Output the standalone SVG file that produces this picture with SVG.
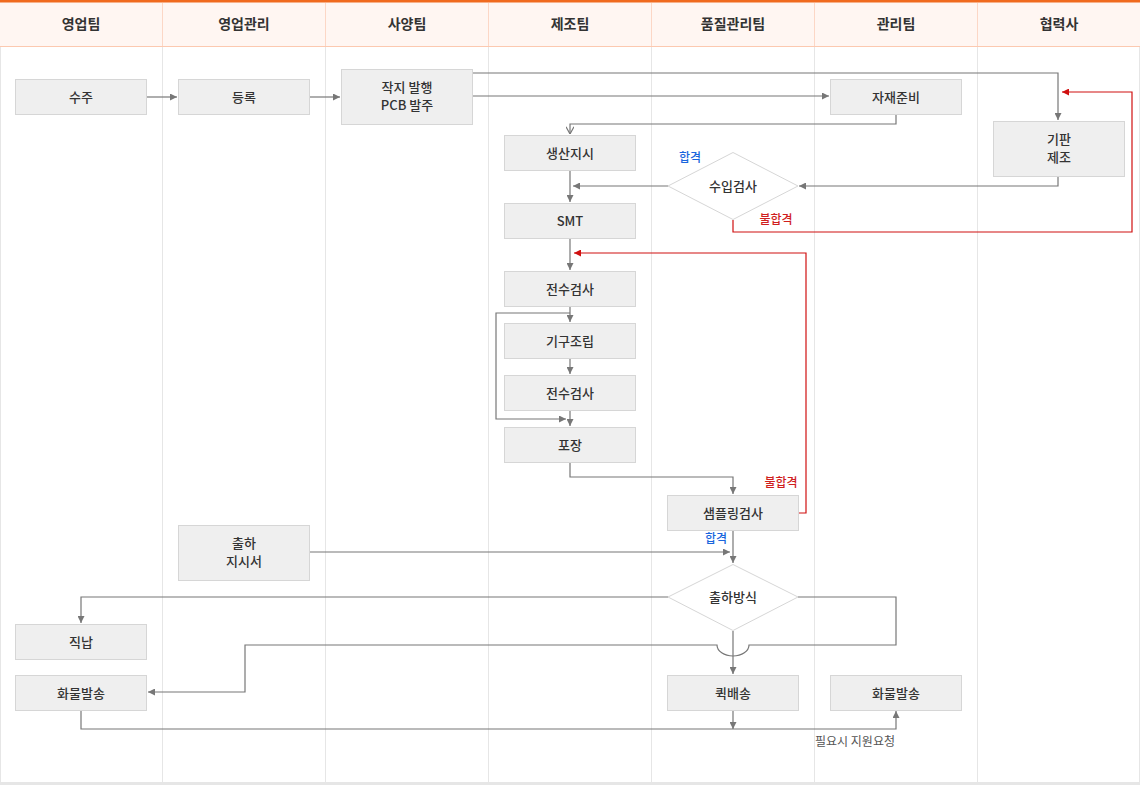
<svg xmlns="http://www.w3.org/2000/svg" width="1140" height="785" viewBox="0 0 1140 785">
<defs>
<style>
.hdr{fill:#333;font-family:"Noto Sans CJK KR","Noto Sans",sans-serif;font-size:14px;font-weight:700;text-anchor:middle}
.box{fill:#efefef;stroke:#d6d6d6;stroke-width:1}
.dia{fill:#fff;stroke:#d6d6d6;stroke-width:1}
.t{fill:#333;font-family:"Noto Sans CJK KR","Noto Sans",sans-serif;font-size:13px;font-weight:500;text-anchor:middle}
.ln{fill:none;stroke:#777;stroke-width:1.2}
.rl{fill:none;stroke:#d01010;stroke-width:1.2}
.lbB{fill:#1a66dd;font-family:"Noto Sans CJK KR","Noto Sans",sans-serif;font-size:12px;font-weight:500;text-anchor:middle}
.lbR{fill:#d01e1e;font-family:"Noto Sans CJK KR","Noto Sans",sans-serif;font-size:12px;font-weight:500;text-anchor:middle}
.lbG{fill:#555;font-family:"Noto Sans CJK KR","Noto Sans",sans-serif;font-size:12px;text-anchor:middle}
.col{stroke:#e6e6e6;stroke-width:1}
.hcol{stroke:#fcd7c6;stroke-width:1}
</style>
<marker id="a" viewBox="0 0 10 10" refX="10" refY="5" markerWidth="7" markerHeight="7" markerUnits="userSpaceOnUse" orient="auto"><path d="M0,0 L10,5 L0,10 z" fill="#777"/></marker>
<marker id="ar" viewBox="0 0 10 10" refX="10" refY="5" markerWidth="7" markerHeight="7" markerUnits="userSpaceOnUse" orient="auto"><path d="M0,0 L10,5 L0,10 z" fill="#d01010"/></marker>
<marker id="av" viewBox="0 0 10 10" refX="10" refY="5" markerWidth="8" markerHeight="8" markerUnits="userSpaceOnUse" orient="auto"><path d="M1,0 L10,5 L1,10" fill="none" stroke="#777" stroke-width="1.5"/></marker>
</defs>
<rect x="0" y="0" width="1140" height="785" fill="#fff"/>
<!-- header -->
<g id="header">
<rect x="0" y="2" width="1140" height="44" fill="#fff6f2"/>
<rect x="0" y="0" width="1140" height="2.5" fill="#f06a1e"/>
<line x1="0" y1="46.5" x2="1140" y2="46.5" stroke="#fcc9b0" stroke-width="1"/>
<line class="hcol" x1="162.5" y1="3" x2="162.5" y2="46"/>
<line class="hcol" x1="325.5" y1="3" x2="325.5" y2="46"/>
<line class="hcol" x1="488.5" y1="3" x2="488.5" y2="46"/>
<line class="hcol" x1="651.5" y1="3" x2="651.5" y2="46"/>
<line class="hcol" x1="814.5" y1="3" x2="814.5" y2="46"/>
<line class="hcol" x1="977.5" y1="3" x2="977.5" y2="46"/>
<text class="hdr" x="81" y="29">영업팀</text>
<text class="hdr" x="244" y="29">영업관리</text>
<text class="hdr" x="407" y="29">사양팀</text>
<text class="hdr" x="570" y="29">제조팀</text>
<text class="hdr" x="733" y="29">품질관리팀</text>
<text class="hdr" x="896" y="29">관리팀</text>
<text class="hdr" x="1059" y="29">협력사</text>
</g>
<g id="lanes">
<line class="col" x1="0.5" y1="47" x2="0.5" y2="785"/>
<line class="col" x1="162.5" y1="47" x2="162.5" y2="785"/>
<line class="col" x1="325.5" y1="47" x2="325.5" y2="785"/>
<line class="col" x1="488.5" y1="47" x2="488.5" y2="785"/>
<line class="col" x1="651.5" y1="47" x2="651.5" y2="785"/>
<line class="col" x1="814.5" y1="47" x2="814.5" y2="785"/>
<line class="col" x1="977.5" y1="47" x2="977.5" y2="785"/>
<line class="col" x1="1139.5" y1="47" x2="1139.5" y2="785"/>
<rect x="0" y="782" width="1140" height="3" fill="#e6e6e6"/>
</g>
<!-- connectors -->
<g id="connectors">
<path class="ln" d="M147,97 H177" marker-end="url(#a)"/>
<path class="ln" d="M310,97 H340" marker-end="url(#a)"/>
<path class="ln" d="M473,96 H829" marker-end="url(#a)"/>
<path class="ln" d="M473,73 H1058 V120" marker-end="url(#a)"/>
<path class="ln" d="M896,115 V124 H570 V134" marker-end="url(#av)"/>
<path class="ln" d="M1058,176 V186 H799" marker-end="url(#a)"/>
<path class="ln" d="M668,186 H573" marker-end="url(#a)"/>
<path class="ln" d="M570,171 V202" marker-end="url(#a)"/>
<path class="rl" d="M733,220 V232 H1132 V92 H1062" marker-end="url(#ar)"/>
<path class="ln" d="M570,239 V270" marker-end="url(#a)"/>
<path class="rl" d="M799,513 H806 V253 H574" marker-end="url(#ar)"/>
<path class="ln" d="M570,307 V322" marker-end="url(#a)"/>
<path class="ln" d="M570,313 H496 V419 H566" marker-end="url(#a)"/>
<path class="ln" d="M570,358 V374" marker-end="url(#a)"/>
<path class="ln" d="M570,410 V426" marker-end="url(#a)"/>
<path class="ln" d="M570,462 V477 H733 V494" marker-end="url(#a)"/>
<path class="ln" d="M733,530 V563" marker-end="url(#a)"/>
<path class="ln" d="M310,552 H730" marker-end="url(#a)"/>
<path class="ln" d="M668,597 H81 V623" marker-end="url(#a)"/>
<path class="ln" d="M733,631 V674" marker-end="url(#a)"/>
<path class="ln" d="M798,597 H896 V645 H749 A16,11 0 0 1 717,645 H245 V692 H148" marker-end="url(#a)"/>
<path class="ln" d="M81,710 V729 H896 V711" marker-end="url(#a)"/>
<path class="ln" d="M733,710 V729" marker-end="url(#a)"/>
<text class="lbB" x="690" y="162">합격</text>
<text class="lbR" x="776" y="224">불합격</text>
<text class="lbR" x="781" y="487">불합격</text>
<text class="lbB" x="716" y="543">합격</text>
<text class="lbG" x="855" y="746">필요시 지원요청</text>
</g>
<!-- nodes -->
<g id="n-suju"><rect class="box" x="15.5" y="79.5" width="131" height="35"/><text class="t" x="81" y="102">수주</text></g>
<g id="n-deungrok"><rect class="box" x="178.5" y="79.5" width="131" height="35"/><text class="t" x="244" y="102">등록</text></g>
<g id="n-jakji"><rect class="box" x="341.5" y="69.5" width="131" height="55"/><text class="t" x="407" y="92">작지 발행</text><text class="t" x="407" y="110">PCB 발주</text></g>
<g id="n-jajae"><rect class="box" x="830.5" y="79.5" width="131" height="35"/><text class="t" x="896" y="102">자재준비</text></g>
<g id="n-gipan"><rect class="box" x="993.5" y="121.5" width="131" height="55"/><text class="t" x="1059" y="144">기판</text><text class="t" x="1059" y="162">제조</text></g>
<g id="n-saengsan"><rect class="box" x="504.5" y="135.5" width="131" height="35"/><text class="t" x="570" y="158">생산지시</text></g>
<g id="n-suip"><polygon class="dia" points="733,152.5 798,186 733,219.5 668,186"/><text class="t" x="733" y="191">수입검사</text></g>
<g id="n-smt"><rect class="box" x="504.5" y="203.5" width="131" height="35"/><text class="t" x="570" y="226">SMT</text></g>
<g id="n-jeonsu1"><rect class="box" x="504.5" y="271.5" width="131" height="35"/><text class="t" x="570" y="294">전수검사</text></g>
<g id="n-gigu"><rect class="box" x="504.5" y="323.5" width="131" height="35"/><text class="t" x="570" y="346">기구조립</text></g>
<g id="n-jeonsu2"><rect class="box" x="504.5" y="375.5" width="131" height="35"/><text class="t" x="570" y="398">전수검사</text></g>
<g id="n-pojang"><rect class="box" x="504.5" y="427.5" width="131" height="35"/><text class="t" x="570" y="450">포장</text></g>
<g id="n-sampling"><rect class="box" x="667.5" y="495.5" width="131" height="35"/><text class="t" x="733" y="518">샘플링검사</text></g>
<g id="n-chulha-doc"><rect class="box" x="178.5" y="525.5" width="131" height="55"/><text class="t" x="244" y="548">출하</text><text class="t" x="244" y="566">지시서</text></g>
<g id="n-chulha-way"><polygon class="dia" points="733,564.5 798,597 733,630.5 668,597"/><text class="t" x="733" y="602">출하방식</text></g>
<g id="n-jiknap"><rect class="box" x="15.5" y="624.5" width="131" height="35"/><text class="t" x="81" y="647">직납</text></g>
<g id="n-hwamul1"><rect class="box" x="15.5" y="675.5" width="131" height="35"/><text class="t" x="81" y="698">화물발송</text></g>
<g id="n-quick"><rect class="box" x="667.5" y="675.5" width="131" height="35"/><text class="t" x="733" y="698">퀵배송</text></g>
<g id="n-hwamul2"><rect class="box" x="830.5" y="675.5" width="131" height="35"/><text class="t" x="896" y="698">화물발송</text></g>
</svg>
